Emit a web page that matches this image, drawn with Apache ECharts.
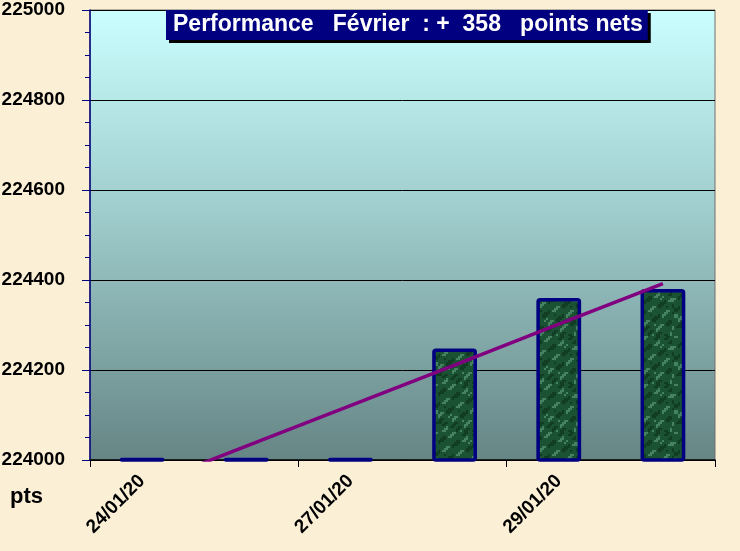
<!DOCTYPE html>
<html>
<head>
<meta charset="utf-8">
<script src="https://cdn.jsdelivr.net/npm/echarts@6/dist/echarts.min.js"></script>
<style>
  html, body { margin: 0; padding: 0; background: #fbefd6; }
  #chart { width: 740px; height: 551px; }
</style>
</head>
<body>
<div id="chart"></div>
<script>
// dates (only every other one is labelled)
const dates = ['24/01/20', '25/01/20', '27/01/20', '28/01/20', '29/01/20', '30/01/20']
// closing points per day
const points = [224005, 224005, 224005, 224248, 224360, 224380]
// trend line
const trend = [223940, 224031, 224121, 224211, 224302, 224392]
const titleText = 'Performance   Février  : +  358   points nets'

// green marble-like fill for the bars (deterministic pattern)
const makeMarble = () => {
  const c = document.createElement('canvas')
  c.width = 48
  c.height = 48
  const ctx = c.getContext('2d')
  ctx.fillStyle = '#1c5234'
  ctx.fillRect(0, 0, 48, 48)
  for (let y = 0; y < 48; y += 2) {
    for (let x = 0; x < 48; x += 2) {
      const v = Math.sin(x * 0.37 + y * 0.21) + Math.sin(x * 0.13 - y * 0.41) + Math.sin((x + y) * 0.7)
      if (v > 1.4) {
        ctx.fillStyle = 'rgba(120,190,150,0.45)'
        ctx.fillRect(x, y, 2, 2)
      } else if (v < -1.2) {
        ctx.fillStyle = 'rgba(5,40,20,0.5)'
        ctx.fillRect(x, y, 2, 2)
      }
    }
  }
  return c
}

const chart = echarts.init(document.getElementById('chart'))

const option = {
  backgroundColor: '#fbefd6',
  animation: false,
  title: {
    text: titleText,
    left: 166,
    top: 10,
    padding: [3, 5, 3, 7],
    backgroundColor: '#000080',
    shadowColor: '#000',
    shadowOffsetX: 3,
    shadowOffsetY: 3,
    shadowBlur: 0,
    textStyle: {
      color: '#fff',
      fontFamily: 'Liberation Sans, Arial',
      fontWeight: 'bold',
      fontSize: 23,
      lineHeight: 24
    }
  },
  grid: {
    left: 90,
    right: 25,
    top: 10,
    bottom: 91,
    outerBoundsMode: 'none',
    show: true,
    borderColor: '#707070',
    borderWidth: 1,
    backgroundColor: {
      type: 'linear', x: 0, y: 0, x2: 0, y2: 1,
      colorStops: [
        { offset: 0, color: '#cbffff' },
        { offset: 0.5, color: '#9ac6c6' },
        { offset: 1, color: '#668585' }
      ]
    }
  },
  xAxis: {
    type: 'category',
    data: dates,
    axisLine: { lineStyle: { color: '#000', width: 1.5 } },
    axisTick: { show: true, length: 7, lineStyle: { color: '#000' } },
    axisLabel: {
      interval: 1,
      rotate: 45,
      margin: 18,
      color: '#000',
      fontFamily: 'Liberation Sans, Arial',
      fontWeight: 'bold',
      fontSize: 19
    }
  },
  yAxis: {
    type: 'value',
    min: 224000,
    max: 225000,
    interval: 200,
    axisLine: { show: true, lineStyle: { color: '#000080', width: 1.5 } },
    axisTick: { show: true, length: 8, lineStyle: { color: '#000080' } },
    minorTick: { show: true, splitNumber: 4, length: 5, lineStyle: { color: '#000080' } },
    splitLine: { show: true, lineStyle: { color: '#000', width: 1 } },
    axisLabel: {
      margin: 25,
      color: '#000',
      fontFamily: 'Liberation Sans, Arial',
      fontWeight: 'bold',
      fontSize: 19,
      formatter: (v) => String(v)
    }
  },
  graphic: [
    {
      type: 'text',
      left: 10,
      top: 486,
      style: {
        text: 'pts',
        fill: '#000',
        font: 'bold 22px "Liberation Sans", Arial'
      }
    }
  ],
  series: [
    {
      name: 'points',
      type: 'bar',
      data: points,
      barWidth: '43%',
      itemStyle: {
        color: { image: makeMarble(), repeat: 'repeat' },
        borderColor: '#000080',
        borderWidth: 3.5,
        borderRadius: 2
      }
    },
    {
      name: 'tendance',
      type: 'line',
      data: trend,
      symbol: 'none',
      clip: true,
      lineStyle: { color: '#800080', width: 3.5 },
      z: 5
    }
  ]
}

chart.setOption(option)
</script>
</body>
</html>
